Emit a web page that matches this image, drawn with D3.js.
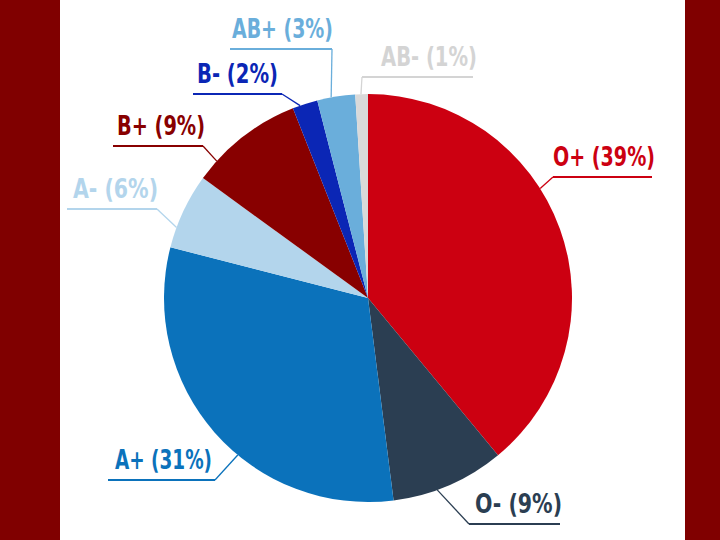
<!DOCTYPE html>
<html><head><meta charset="utf-8">
<script src="https://cdn.jsdelivr.net/npm/d3@7"></script>
<style>html,body{margin:0;padding:0;background:#800000;}svg{display:block;}</style>
</head><body>
<svg id="c" width="720" height="540"></svg>
<script>
// ---- data ----
const groups = ["O+", "O-", "A+", "A-", "B+", "B-", "AB+", "AB-"];
const shares = [39, 9, 31, 6, 9, 2, 3, 1];
const sliceColors = ["#cc0011", "#2b3e52", "#0b72bb", "#b3d5ec", "#880000", "#0b26b5", "#6aaedb", "#d9d9d9"];
const textColors  = ["#cc0011", "#2b3e52", "#0b72bb", "#b3d5ec", "#880000", "#0b26b5", "#6aaedb", "#d4d4d4"];

// ---- layout of labels (annotation placement) ----
const anchorFrac = [0.41, 0.61, 0.42, 0.27, 0.19, 0.3, 0.37, 0.45];
const labelX     = [553, 475, 115, 73, 117, 197, 232, 381];
const labelW     = [102, 87, 97, 85, 88, 81, 101, 96];
const lineX1     = [553, 469, 108, 67, 113, 193, 230, 362];
const lineX2     = [652, 560, 215, 157, 203, 282, 332, 473];
const lineY      = [177, 524, 480, 209, 146, 94, 49, 77];
const elbowLeft  = [true, true, false, false, false, false, false, true];

const svg = d3.select("#c");
svg.append("rect").attr("x", 0).attr("y", 0).attr("width", 720).attr("height", 540).attr("fill", "#800000");
svg.append("rect").attr("x", 60).attr("y", 0).attr("width", 625).attr("height", 540).attr("fill", "#ffffff");

const cx = 368, cy = 298, R = 204;
const pie = d3.pie().sort(null).value(d => d);
const arcs = pie(shares);
const arc = d3.arc().innerRadius(0).outerRadius(R);

const g = svg.append("g").attr("transform", `translate(${cx},${cy})`);
g.selectAll("path.slice").data(arcs).enter().append("path")
  .attr("class", "slice")
  .attr("d", arc)
  .attr("fill", (d, i) => sliceColors[i]);

arcs.forEach((a, i) => {
  const ang = a.startAngle + (a.endAngle - a.startAngle) * anchorFrac[i];
  const ax = cx + R * Math.sin(ang);
  const ay = cy - R * Math.cos(ang);
  const ex = elbowLeft[i] ? lineX1[i] : lineX2[i];
  const ey = lineY[i];
  svg.append("line")
    .attr("x1", ax).attr("y1", ay).attr("x2", ex).attr("y2", ey)
    .attr("stroke", textColors[i]).attr("stroke-width", 1.3);
  svg.append("line")
    .attr("x1", lineX1[i]).attr("y1", ey).attr("x2", lineX2[i]).attr("y2", ey)
    .attr("stroke", textColors[i]).attr("stroke-width", 2.2);
  svg.append("text")
    .attr("x", labelX[i]).attr("y", ey - 11)
    .attr("font-family", "'DejaVu Sans Condensed', 'Liberation Sans Narrow', sans-serif")
    .attr("font-stretch", "condensed")
    .attr("font-weight", "bold")
    .attr("font-size", 27)
    .attr("textLength", labelW[i])
    .attr("lengthAdjust", "spacingAndGlyphs")
    .attr("fill", textColors[i])
    .text(`${groups[i]} (${shares[i]}%)`);
});
</script>
</body></html>
